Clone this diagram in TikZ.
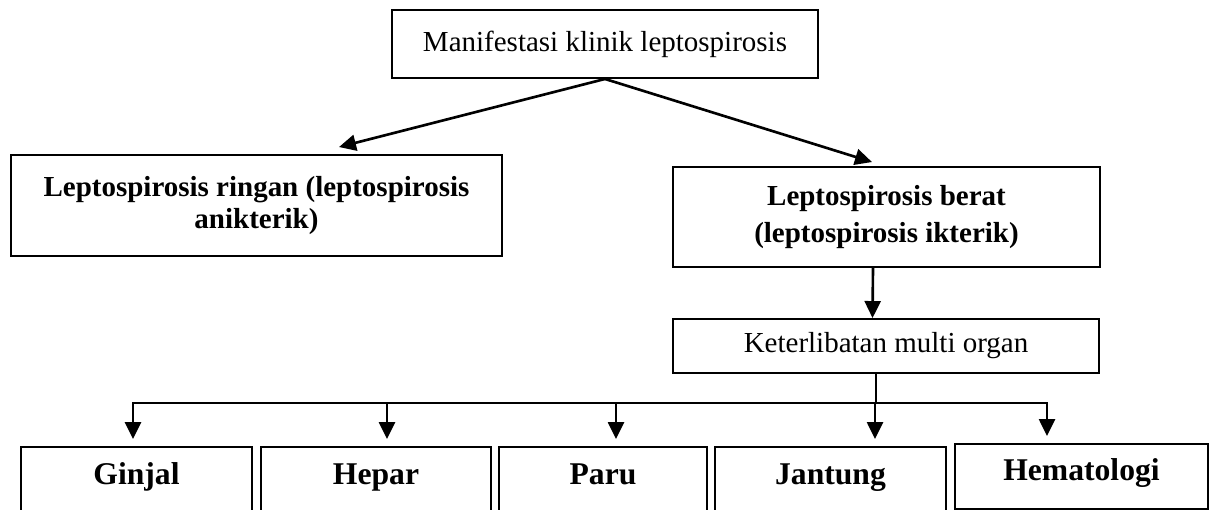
\documentclass[tikz,border=0pt]{standalone}
\usepackage{fontspec}
\setmainfont{Liberation Serif}
\usetikzlibrary{arrows.meta}

\begin{document}
\begin{tikzpicture}[
    box/.style={
        draw,
        line width=1.1pt,
        align=center,
        inner sep=0pt,
        font=\fontsize{16.5}{18.5}\selectfont
    },
    bold/.style={
        box,
        font=\fontsize{16.5}{18.5}\selectfont\bfseries
    },
    organ/.style={
        box,
        anchor=north,
        text height=0.76cm,
        text depth=1.2cm,
        font=\fontsize{18}{21}\selectfont\bfseries
    },
    link/.style={line width=1.2pt, line cap=rect},
    arrow/.style={line width=1.5pt, -{Triangle[length=0.34cm, width=0.32cm]}}
]

\clip (0,0) rectangle (24.3,-10.18);

%%%%%%%%%%%%%%%%%%%%%%%%
% Manifestasi klinik
%%%%%%%%%%%%%%%%%%%%%%%%

\node[box, minimum width=8.52cm, minimum height=1.36cm] (manif) at (12.1,-0.88) {Manifestasi klinik leptospirosis};

% --- Ringan / berat ---
\node[bold, minimum width=9.82cm, minimum height=2.02cm] (ringan) at (5.13,-4.11)
    {Leptospirosis ringan (leptospirosis\\ anikterik)};
\node[bold, minimum width=8.54cm, minimum height=2cm,
    font=\fontsize{16.5}{21.5}\selectfont\bfseries] (berat) at (17.73,-4.34)
    {Leptospirosis berat\\ (leptospirosis ikterik)};

\draw[arrow] (manif.south) -- ([xshift=1.65cm, yshift=0.14cm]ringan.north);
\draw[arrow] (manif.south) -- ([xshift=-0.29cm, yshift=0.08cm]berat.north);

%%%%%%%%%%%%%%%%%%%%%%%%
% Keterlibatan multi organ
%%%%%%%%%%%%%%%%%%%%%%%%

\node[box, minimum width=8.52cm, minimum height=1.08cm] (multi) at (17.72,-6.92) {Keterlibatan multi organ};

\draw[arrow] ([xshift=-0.27cm]berat.south) -- ([xshift=-0.27cm]multi.north);

% --- Organ ---
\node[organ, minimum width=4.62cm] (ginjal) at (2.73,-8.92) {Ginjal};
\node[organ, minimum width=4.6cm] (hepar) at (7.52,-8.92) {Hepar};
\node[organ, minimum width=4.16cm] (paru) at (12.06,-8.92) {Paru};
\node[organ, minimum width=4.62cm] (jantung) at (16.61,-8.92) {Jantung};
\node[organ, minimum width=5.06cm, text height=0.74cm, text depth=0.56cm] (hema) at (21.63,-8.86) {Hematologi};

\coordinate (bus) at ([xshift=-0.2cm, yshift=-0.58cm]multi.south);
\draw[link] ([xshift=-0.2cm]multi.south) -- (bus);
\draw[link] ([xshift=-0.07cm]ginjal.north |- bus) -- ([xshift=-0.69cm]hema.north |- bus);
\foreach \o/\dx in {ginjal/-0.07, hepar/0.22, paru/0.26, jantung/0.89, hema/-0.69}
    \draw[arrow, shorten >=0.14cm] ([xshift=\dx cm]\o.north |- bus) -- ([xshift=\dx cm]\o.north);

\end{tikzpicture}
\end{document}
